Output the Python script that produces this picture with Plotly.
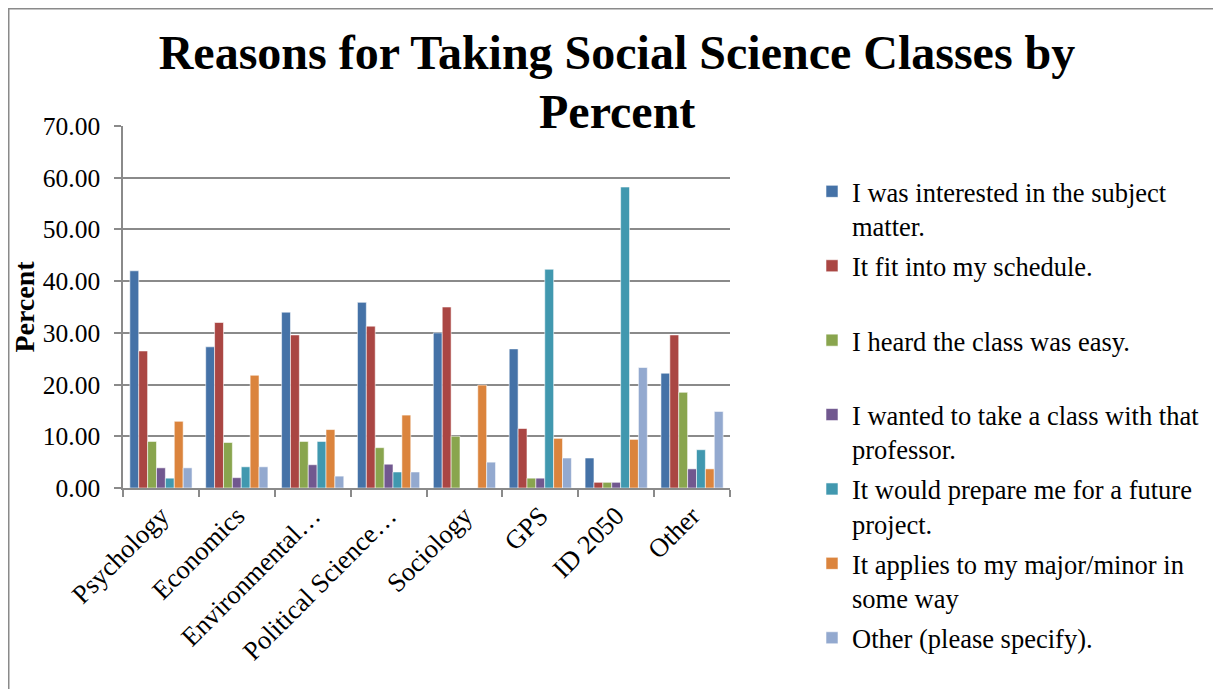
import plotly.graph_objects as go

categories = ["Psychology", "Economics", "Environmental\u2026", "Political Science\u2026",
              "Sociology", "GPS", "ID 2050", "Other"]

series_names = [
    "I was interested in the subject<br>matter.",
    "It fit into my schedule.<br> ",
    "I heard the class was easy.<br> ",
    "I wanted to take a class with that<br>professor.",
    "It would prepare me for a future<br>project.",
    "It applies to my major/minor in<br>some way",
    "Other (please specify).",
]

interested = [42.0, 27.3, 34.0, 35.9, 30.0, 26.9, 5.8, 22.2]
schedule = [26.5, 32.0, 29.6, 31.3, 35.0, 11.5, 1.1, 29.6]
easy = [9.0, 8.8, 9.0, 7.8, 10.0, 1.9, 1.1, 18.5]
professor = [3.9, 2.0, 4.5, 4.6, 0.0, 1.9, 1.1, 3.7]
future_project = [1.9, 4.1, 9.0, 3.1, 0.0, 42.3, 58.2, 7.4]
major_minor = [12.9, 21.8, 11.3, 14.1, 19.9, 9.6, 9.4, 3.7]
other_reason = [3.9, 4.1, 2.3, 3.1, 5.0, 5.8, 23.3, 14.8]

values = [interested, schedule, easy, professor, future_project, major_minor, other_reason]
colors = ["#4572A7", "#AA4643", "#89A54E", "#71588F", "#4198AF", "#DB843D", "#93A9CF"]

FONT = "Times New Roman, Liberation Serif, serif"
GRID = "#8a8a8a"

W, H = 1213, 681
L, T, PW, PH = 115, 118, 607, 362

fig = go.Figure()
for i, (name, vals, col) in enumerate(zip(series_names, values, colors)):
    fig.add_trace(go.Bar(
        x=categories, y=vals, name=name, legendgroup=f"g{i}",
        marker=dict(color=col, line=dict(color="rgba(255,255,255,0.7)", width=0.8)),
    ))

fig.update_layout(
    width=W, height=H,
    margin=dict(l=L, r=W - L - PW, t=T, b=H - T - PH, autoexpand=False),
    paper_bgcolor="white", plot_bgcolor="white",
    font=dict(family=FONT, color="black", size=25),
    barmode="group", bargap=0.18, bargroupgap=0,
    title=dict(text="<b>Reasons for Taking Social Science Classes by</b>",
               font=dict(family=FONT, size=48, color="black"),
               x=(609) / W, xanchor="center", xref="container",
               y=1 - 44 / H, yanchor="middle", yref="container"),
    showlegend=True,
    legend=dict(x=(804 - L) / PW, xanchor="left", y=0.885, yanchor="top",
                font=dict(family=FONT, size=26.5, color="black"),
                valign="top", tracegroupgap=2.5, bgcolor="rgba(0,0,0,0)",
                traceorder="grouped", maxheight=1000),
    annotations=[dict(text="<b>Percent</b>", xref="paper", yref="paper",
                      x=(609 - L) / PW, y=1 - (103 - T) / PH,
                      xanchor="center", yanchor="middle", showarrow=False,
                      font=dict(family=FONT, size=48, color="black"))],
    shapes=[dict(type="rect", xref="paper", yref="paper",
                 x0=(0.5 - L) / PW, x1=(W + 40 - L) / PW,
                 y0=1 - (H + 40 - T) / PH, y1=1 - (0.5 - T) / PH,
                 line=dict(color="#8a8a8a", width=2), fillcolor="rgba(0,0,0,0)",
                 layer="below")],
)

fig.update_xaxes(
    type="category", tickangle=-45, tickson="boundaries",
    ticks="outside", ticklen=7, tickcolor=GRID, tickwidth=1.5,
    showline=True, linecolor=GRID, linewidth=1.5,
    showgrid=False, tickfont=dict(family=FONT, size=26.5, color="black"),
    automargin=False,
)
fig.update_yaxes(
    range=[0, 70], dtick=10, tickformat=".2f",
    ticks="outside", ticklen=7, tickcolor=GRID, tickwidth=1.5,
    showline=True, linecolor=GRID, linewidth=1.5,
    showgrid=True, gridcolor=GRID, gridwidth=1.5, zeroline=False,
    tickfont=dict(family=FONT, size=25.5, color="black"),
    ticklabelstandoff=9,
    title=dict(text="<b>Percent</b>", font=dict(family=FONT, size=28, color="black"),
               standoff=0),
    automargin=False,
)

fig.write_html("out.html")
